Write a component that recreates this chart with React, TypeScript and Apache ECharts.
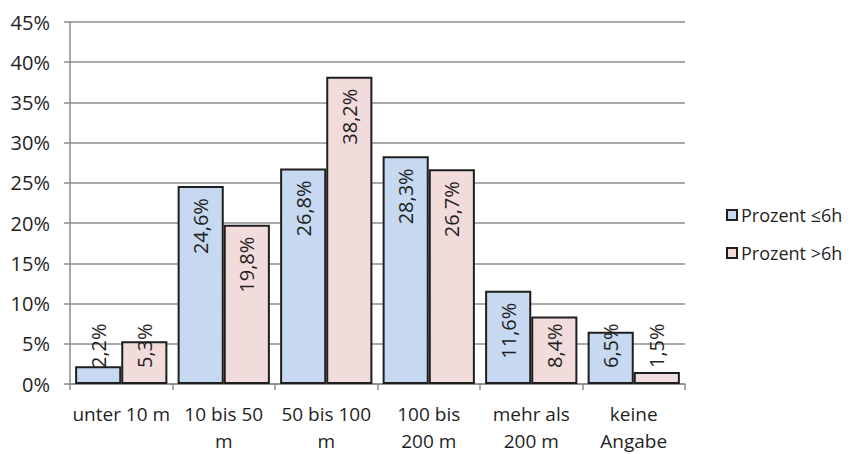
import React, { useEffect, useRef } from "react";
import * as echarts from "echarts";

const categories = ["unter 10 m", "10 bis 50\nm", "50 bis 100\nm", "100 bis\n200 m", "mehr als\n200 m", "keine\nAngabe"];
const seriesNames = ["Prozent ≤6h", "Prozent >6h"];
const valuesLe6h = [2.2, 24.6, 26.8, 28.3, 11.6, 6.5];
const valuesGt6h = [5.3, 19.8, 38.2, 26.7, 8.4, 1.5];
const yTicks = { min: 0, max: 45, interval: 5 };

const FONT = "Open Sans";
const TEXT = "#1f1f1f";

function fmt(v: number) {
  return v.toFixed(1).replace(".", ",") + "%";
}

function makeData(vals: number[]) {
  return vals.map((v) =>
    v < 10
      ? {
          value: v,
          label: {
            position: "insideBottom",
            distance: 16,
            align: "left",
            verticalAlign: "middle",
          },
        }
      : {
          value: v,
          label: {
            position: "insideTop",
            distance: 12,
            align: "right",
            verticalAlign: "middle",
          },
        }
  );
}

export default function App() {
  const ref = useRef<HTMLDivElement>(null);
  useEffect(() => {
    if (!ref.current) return;
    const chart = echarts.init(ref.current, undefined, { renderer: "svg" });
    const labelBase = {
      show: true,
      rotate: 90,
      fontFamily: FONT,
      fontSize: 20,
      color: TEXT,
      formatter: (p: any) => fmt(p.value),
    };
    chart.setOption({
      animation: false,
      backgroundColor: "#ffffff",
      textStyle: { fontFamily: FONT },
      grid: { left: 70, right: 166, top: 22, bottom: 67, containLabel: false },
      legend: {
        orient: "vertical",
        left: 721,
        top: 201,
        itemWidth: 10,
        itemHeight: 10,
        itemGap: 20,
        icon: "rect",
        textStyle: { fontFamily: FONT, fontSize: 18, color: TEXT, padding: [0, 0, 0, -1] },
        data: seriesNames,
      },
      xAxis: {
        type: "category",
        data: categories,
        boundaryGap: true,
        axisLine: { lineStyle: { color: "#8c8c8c", width: 1.5 } },
        axisTick: { show: true, length: 6, lineStyle: { color: "#8c8c8c", width: 1.5 } },
        axisLabel: {
          interval: 0,
          fontFamily: FONT,
          fontSize: 19,
          color: TEXT,
          lineHeight: 27,
          margin: 16,
        },
      },
      yAxis: {
        type: "value",
        min: yTicks.min,
        max: yTicks.max,
        interval: yTicks.interval,
        axisLine: { show: true, lineStyle: { color: "#8c8c8c", width: 1.5 } },
        axisTick: { show: true, length: 6, lineStyle: { color: "#8c8c8c", width: 1.5 } },
        splitLine: { show: true, lineStyle: { color: "#8c8c8c", width: 1.5 } },
        axisLabel: {
          formatter: "{value}%",
          fontFamily: FONT,
          fontSize: 20,
          color: TEXT,
          margin: 20,
        },
      },
      series: [
        {
          name: seriesNames[0],
          type: "bar",
          data: makeData(valuesLe6h),
          barGap: "0%",
          barCategoryGap: "10%",
          itemStyle: { color: "#c6d9f1", borderColor: "#1e1e1e", borderWidth: 2 },
          label: labelBase,
        },
        {
          name: seriesNames[1],
          type: "bar",
          data: makeData(valuesGt6h),
          barGap: "0%",
          barCategoryGap: "10%",
          itemStyle: { color: "#f2dcdb", borderColor: "#1e1e1e", borderWidth: 2 },
          label: labelBase,
        },
      ],
    });
    return () => chart.dispose();
  }, []);
  return <div ref={ref} style={{ width: 851, height: 454, position: "absolute", left: 0, top: 0 }} />;
}
